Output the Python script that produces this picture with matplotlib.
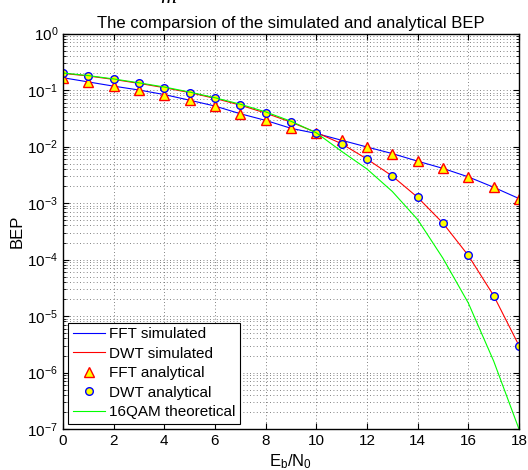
import matplotlib
matplotlib.use("Agg")
import matplotlib.pyplot as plt
from matplotlib.ticker import LogLocator, MultipleLocator, NullFormatter

plt.rcParams['font.family'] = ['Liberation Sans', 'DejaVu Sans']
plt.rcParams['mathtext.fontset'] = 'custom'
plt.rcParams['mathtext.rm'] = 'Liberation Sans'
plt.rcParams['mathtext.it'] = 'Liberation Sans:italic'

# Eb/N0 in dB
ebn0 = list(range(0, 19))

# values
fft_sim = [0.165, 0.139, 0.117, 0.100, 0.083, 0.066, 0.052, 0.038, 0.029, 0.021,
           0.0170, 0.0129, 0.0098, 0.0075, 0.0055, 0.0041, 0.0029, 0.0019, 0.0012]
dwt_sim = [0.197, 0.177, 0.154, 0.131, 0.110, 0.090, 0.071, 0.054, 0.039, 0.027,
           0.0177, 0.0112, 0.0060, 0.0030, 0.00126, 4.4e-4, 1.18e-4, 2.3e-5, 3.0e-6]
fft_ana = [0.165, 0.139, 0.117, 0.100, 0.083, 0.066, 0.052, 0.038, 0.029, 0.021,
           0.0170, 0.0129, 0.0098, 0.0075, 0.0055, 0.0041, 0.0029, 0.0019, 0.0012]
dwt_ana = [0.197, 0.177, 0.154, 0.131, 0.110, 0.090, 0.071, 0.054, 0.039, 0.027,
           0.0177, 0.0112, 0.0060, 0.0030, 0.00126, 4.4e-4, 1.18e-4, 2.3e-5, 3.0e-6]
qam16 = [0.200, 0.180, 0.157, 0.134, 0.113, 0.092, 0.073, 0.056, 0.041, 0.028,
         0.0175, 0.0082, 0.0040, 0.0016, 5.1e-4, 1.05e-4, 1.7e-5, 1.6e-6, 1.0e-7]

fig = plt.figure(figsize=(5.28, 4.70), dpi=100)
ax = fig.add_axes([0.1193, 0.0872, 0.8636, 0.8415])

ax.semilogy(ebn0, fft_sim, color='b', lw=0.8, label='FFT simulated')
ax.semilogy(ebn0, dwt_sim, color='r', lw=0.8, label='DWT simulated')
ax.semilogy(ebn0, fft_ana, '^', color='r', mfc='yellow', mec='r', ms=6.5, mew=1.0,
            ls='none', label='FFT analytical')
ax.semilogy(ebn0, dwt_ana, 'o', color='b', mfc='yellow', mec='b', ms=5.5, mew=1.0,
            ls='none', label='DWT analytical')
ax.semilogy(ebn0, qam16, color=(0, 1, 0), lw=0.8, label='16QAM theoretical')

ax.set_xlim(0, 18)
ax.set_ylim(1e-7, 1)
ax.xaxis.set_major_locator(MultipleLocator(2))
ax.yaxis.set_major_locator(LogLocator(base=10, numticks=10))
ax.yaxis.set_minor_locator(LogLocator(base=10, subs=range(2, 10), numticks=100))
ax.yaxis.set_minor_formatter(NullFormatter())

grid_kw = dict(color='0.35', linestyle=(0, (1, 3)), linewidth=0.6)
ax.grid(True, which='major', axis='both', **grid_kw)
ax.grid(True, which='minor', axis='y', **grid_kw)

ax.tick_params(which='both', direction='in', top=True, right=True, labelsize=11)
ax.tick_params(which='major', length=4)
ax.tick_params(which='minor', length=2)
for s in ax.spines.values():
    s.set_linewidth(1.0)

ax.set_title('The comparsion of the simulated and analytical BEP', fontsize=12, pad=4)
ax.set_xlabel(r'E$_\mathrm{b}$/N$_\mathrm{0}$', fontsize=12, labelpad=3)
ax.set_ylabel('BEP', fontsize=12, labelpad=2)

leg = ax.legend(loc='lower left', fontsize=11, fancybox=False, framealpha=1,
                edgecolor='k', handlelength=2.1, borderaxespad=0.35,
                labelspacing=0.36, handletextpad=0.25, borderpad=0.3)
leg.get_frame().set_linewidth(0.8)

# cut-off italic letter at the very top
fig.text(0.318, 1 - 3 / 470, 'm', family='Liberation Serif', style='italic',
         fontsize=16, va='baseline', ha='center')

fig.savefig('out.png', dpi=100)
